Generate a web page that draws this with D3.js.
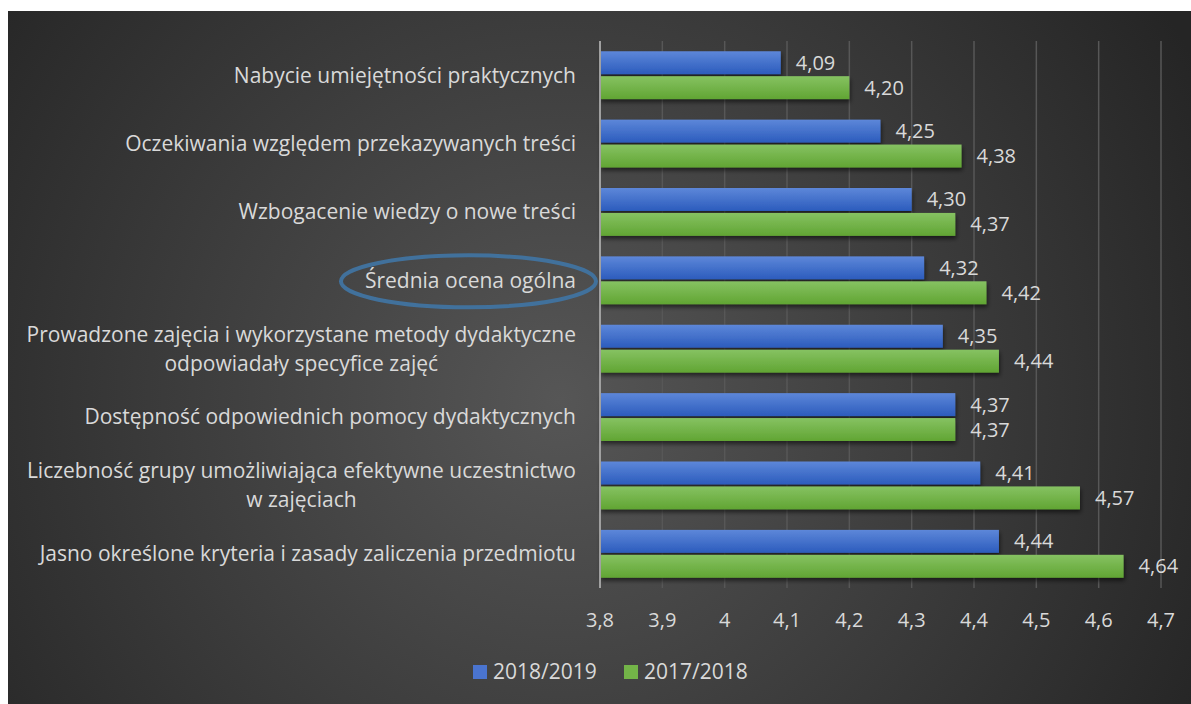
<!DOCTYPE html>
<html>
<head>
<meta charset="utf-8">
<script src="https://cdn.jsdelivr.net/npm/d3@7"></script>
<style>
  html, body { margin: 0; padding: 0; background: #ffffff; }
  svg { display: block; }
  text { font-family: "Open Sans", Lato, sans-serif; }
</style>
</head>
<body>
<div id="chart"></div>
<script>
"use strict";

// categories, top to bottom (a "|" splits a label into lines)
var categories = [
    "Nabycie umiejętności praktycznych",
    "Oczekiwania względem przekazywanych treści",
    "Wzbogacenie wiedzy o nowe treści",
    "Średnia ocena ogólna",
    "Prowadzone zajęcia i wykorzystane metody dydaktyczne|odpowiadały specyfice zajęć",
    "Dostępność odpowiednich pomocy dydaktycznych",
    "Liczebność grupy umożliwiająca efektywne uczestnictwo|w zajęciach",
    "Jasno określone kryteria i zasady zaliczenia przedmiotu"
];
var series = ["2018/2019", "2017/2018"];
var values2018 = [4.09, 4.25, 4.30, 4.32, 4.35, 4.37, 4.41, 4.44];
var values2017 = [4.20, 4.38, 4.37, 4.42, 4.44, 4.37, 4.57, 4.64];
var ticks = [3.8, 3.9, 4.0, 4.1, 4.2, 4.3, 4.4, 4.5, 4.6, 4.7];
var highlighted = "Średnia ocena ogólna";

var W = 1191, H = 704;
var margin = { top: 41, left: 600, right: 30, bottom: 116 };
var fmt = function (v) { return d3.format(".2f")(v).replace(".", ","); };
var tickFmt = function (v) { return d3.format("~g")(v).replace(".", ","); };

var svg = d3.select("#chart").append("svg")
    .attr("width", W)
    .attr("height", H);

var defs = svg.append("defs");
var bg = defs.append("radialGradient")
    .attr("id", "bg")
    .attr("gradientUnits", "userSpaceOnUse")
    .attr("cx", 560).attr("cy", 400).attr("r", 720);
bg.append("stop").attr("offset", "0%").attr("stop-color", "#565656");
bg.append("stop").attr("offset", "100%").attr("stop-color", "#252525");

function barGrad(id, top, bottom) {
    var g = defs.append("linearGradient").attr("id", id)
        .attr("x1", 0).attr("y1", 0).attr("x2", 0).attr("y2", 1);
    g.append("stop").attr("offset", "0%").attr("stop-color", top);
    g.append("stop").attr("offset", "100%").attr("stop-color", bottom);
}
barGrad("gBlue", "#5d87d9", "#2c5cbd");
barGrad("gGreen", "#86c262", "#61a533");
var colors = ["url(#gBlue)", "url(#gGreen)"];
var swatch = ["#4a74cf", "#73b448"];

var shadow = defs.append("filter").attr("id", "shadow")
    .attr("x", "-5%").attr("y", "-30%").attr("width", "110%").attr("height", "180%");
shadow.append("feDropShadow")
    .attr("dx", 1).attr("dy", 3).attr("stdDeviation", 2)
    .attr("flood-color", "#000").attr("flood-opacity", 0.55);

// background panel
svg.append("rect")
    .attr("x", 8).attr("y", 11)
    .attr("width", W - 8).attr("height", H - 11)
    .attr("fill", "url(#bg)");

var x = d3.scaleLinear()
    .domain([3.8, 4.7])
    .range([margin.left, 1161]);
var y = d3.scaleBand()
    .domain(categories)
    .range([margin.top, H - margin.bottom])
    .paddingInner(0.3)
    .paddingOuter(0.15);
var inner = d3.scaleBand()
    .domain(series)
    .range([0, y.bandwidth()])
    .paddingInner(0.08);

// gridlines
svg.append("g").selectAll("line")
    .data(ticks.slice(1))
    .enter().append("line")
    .attr("x1", function (d) { return x(d); })
    .attr("x2", function (d) { return x(d); })
    .attr("y1", margin.top)
    .attr("y2", H - margin.bottom)
    .attr("stroke", "#575757")
    .attr("stroke-width", 1.5);

// bars
var rows = categories.map(function (c, i) {
    return { cat: c, vals: [values2018[i], values2017[i]] };
});
var row = svg.append("g").selectAll("g")
    .data(rows)
    .enter().append("g")
    .attr("transform", function (d) { return "translate(0," + y(d.cat) + ")"; });

row.selectAll("rect")
    .data(function (d) { return d.vals; })
    .enter().append("rect")
    .attr("x", x(3.8))
    .attr("y", function (d, i) { return inner(series[i]); })
    .attr("width", function (d) { return x(d) - x(3.8); })
    .attr("height", inner.bandwidth())
    .attr("fill", function (d, i) { return colors[i]; })
    .attr("filter", "url(#shadow)");

row.selectAll("text.val")
    .data(function (d) { return d.vals; })
    .enter().append("text")
    .attr("class", "val")
    .attr("x", function (d) { return x(d) + 15; })
    .attr("y", function (d, i) { return inner(series[i]) + inner.bandwidth() / 2; })
    .attr("dy", "0.35em")
    .attr("fill", "#d9d9d9")
    .style("font-size", "20px")
    .text(fmt);

// axis line at 3.8
svg.append("line")
    .attr("x1", x(3.8)).attr("x2", x(3.8))
    .attr("y1", margin.top).attr("y2", H - margin.bottom)
    .attr("stroke", "#a0a0a0")
    .attr("stroke-width", 2);

// category labels
var labels = svg.append("g").selectAll("text")
    .data(categories)
    .enter().append("text")
    .attr("fill", "#d9d9d9")
    .style("font-size", "21px")
    .attr("text-anchor", "middle");

labels.each(function (c) {
    var t = d3.select(this);
    var lines = c.split("|");
    var tspans = lines.map(function (l) {
        return t.append("tspan").text(l);
    });
    var wmax = d3.max(tspans, function (s) { return s.node().getComputedTextLength(); });
    var cx = 576 - wmax / 2;
    var cy = y(c) + y.bandwidth() / 2;
    var lh = 29;
    tspans.forEach(function (s, i) {
        s.attr("x", cx)
            .attr("y", cy + (i - (lines.length - 1) / 2) * lh)
            .attr("dy", "0.35em");
    });
    if (c === highlighted) {
        svg.append("ellipse")
            .attr("cx", cx - 2)
            .attr("cy", cy + 1)
            .attr("rx", wmax / 2 + 22)
            .attr("ry", 26)
            .attr("fill", "none")
            .attr("stroke", "#41719c")
            .attr("stroke-width", 4);
    }
});

// x tick labels
svg.append("g").selectAll("text")
    .data(ticks)
    .enter().append("text")
    .attr("x", function (d) { return x(d); })
    .attr("y", 620)
    .attr("dy", "0.35em")
    .attr("text-anchor", "middle")
    .attr("fill", "#d9d9d9")
    .style("font-size", "20px")
    .text(tickFmt);

// legend
var legend = svg.append("g").selectAll("g")
    .data(series)
    .enter().append("g")
    .attr("transform", function (d, i) { return "translate(" + (473 + i * 151) + ",672)"; });
legend.append("rect")
    .attr("x", 0).attr("y", -7)
    .attr("width", 14).attr("height", 14)
    .attr("fill", function (d, i) { return swatch[i]; });
legend.append("text")
    .attr("x", 20)
    .attr("dy", "0.35em")
    .attr("fill", "#d9d9d9")
    .style("font-size", "21px")
    .text(function (d) { return d; });
</script>
</body>
</html>
